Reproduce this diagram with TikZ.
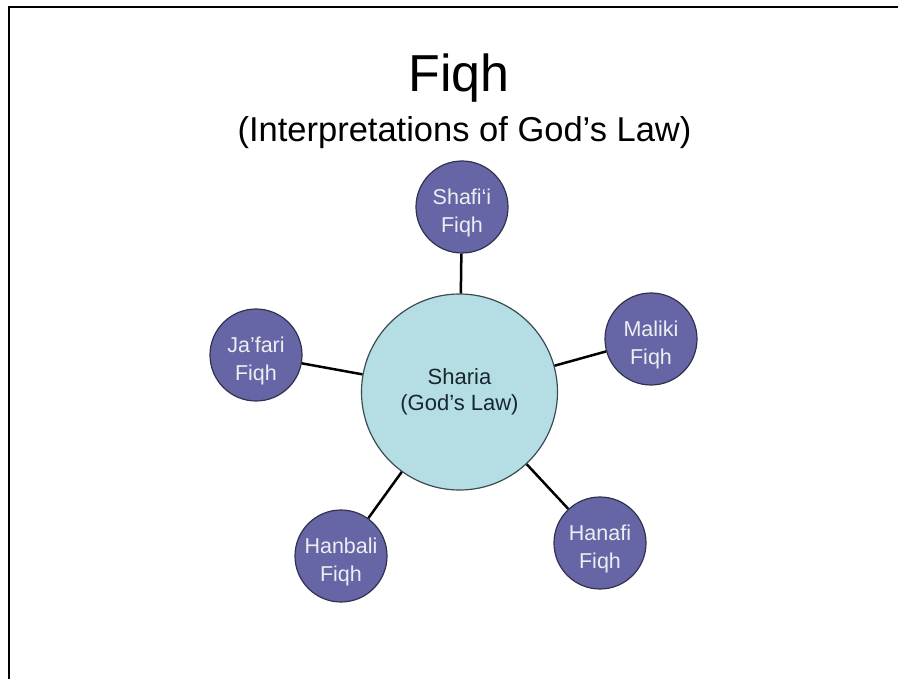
\documentclass[tikz,border=0pt]{standalone}
\usepackage{fontspec}
\setmainfont{Liberation Sans}
\definecolor{fiqhfill}{RGB}{102,102,166}
\definecolor{fiqhline}{RGB}{50,50,80}
\definecolor{shariafill}{RGB}{180,222,228}
\definecolor{sharialine}{RGB}{60,75,80}
\definecolor{shariatext}{RGB}{25,38,45}
\definecolor{fiqhtext}{RGB}{238,238,242}
\begin{document}
\begin{tikzpicture}[x=1pt,y=-1pt,
  school/.style={circle, draw=fiqhline, line width=1.2pt, fill=fiqhfill,
    minimum size=92pt, inner sep=0pt},
  schooltext/.style={align=center, text=fiqhtext, inner sep=0pt,
    font=\fontsize{21.5}{28}\selectfont},
  core/.style={circle, draw=sharialine, line width=1.2pt, fill=shariafill,
    minimum size=196pt, inner sep=0pt, align=center, text=shariatext,
    font=\fontsize{22}{26}\selectfont},
  link/.style={draw=black, line width=2.5pt}]
\useasboundingbox (0,0) rectangle (898,679);
% page frame, running off the right and bottom edges
\draw[line width=2.2pt] (9,690) -- (9,7) -- (910,7);

% titles
\node (title) [anchor=base, font=\fontsize{52}{60}\selectfont] at (459,92) {Fiqh};
\node (subtitle) [anchor=base, font=\fontsize{34.5}{40}\selectfont] at (464.5,142) {(Interpretations of God’s Law)};

% central circle and the five schools
\node (sharia) [core] at (459.5,392) {Sharia\\(God’s Law)};
\node (shafii) [school] at (462,207) {};
\node (jafari) [school] at (256,355) {};
\node (maliki) [school] at (651,339) {};
\node (hanbali) [school] at (341,556) {};
\node (hanafi) [school] at (600,543) {};

% school names, set a little below each circle's centre
\node (shafiitext) [schooltext] at ([yshift=-6pt]shafii.center) {Shafi\symbol{"60}i\\Fiqh};
\node (jafaritext) [schooltext] at ([yshift=-6pt]jafari.center) {Ja’fari\\Fiqh};
\node (malikitext) [schooltext] at ([yshift=-6pt]maliki.center) {Maliki\\Fiqh};
\node (hanbalitext) [schooltext] at ([yshift=-6pt]hanbali.center) {Hanbali\\Fiqh};
\node (hanafitext) [schooltext] at ([yshift=-6pt]hanafi.center) {Hanafi\\Fiqh};

% connectors
\draw[link] (sharia) -- (shafii);
\draw[link] (sharia) -- (jafari);
\draw[link] (sharia) -- (maliki);
\draw[link] (sharia) -- (hanbali);
\draw[link] (sharia) -- (hanafi);
\end{tikzpicture}
\end{document}
